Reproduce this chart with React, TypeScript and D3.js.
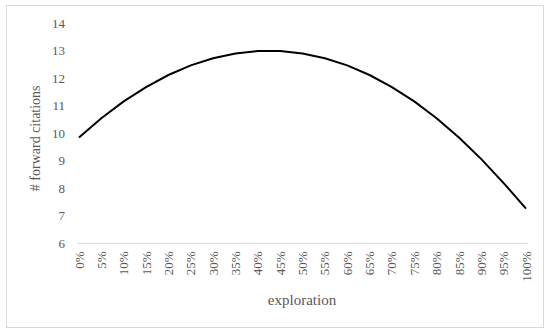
import { useEffect, useRef } from 'react';
import * as d3 from 'd3';

const categories = ['0%', '5%', '10%', '15%', '20%', '25%', '30%', '35%', '40%', '45%', '50%', '55%', '60%', '65%', '70%', '75%', '80%', '85%', '90%', '95%', '100%'];
const citations = [9.85, 10.55, 11.16, 11.68, 12.12, 12.47, 12.73, 12.9, 12.99, 12.99, 12.9, 12.73, 12.47, 12.12, 11.68, 11.16, 10.55, 9.85, 9.06, 8.19, 7.26];
const yTicks = [6, 7, 8, 9, 10, 11, 12, 13, 14];

const WIDTH = 550;
const HEIGHT = 335;
const FONT = '"Palatino Linotype", "Book Antiqua", Palatino, "Liberation Serif", serif';

export default function App() {
  const svgRef = useRef<SVGSVGElement>(null);

  useEffect(() => {
    if (!svgRef.current) return;
    const svg = d3.select(svgRef.current);
    svg.selectAll('*').remove();

    // frame
    svg.append('rect')
      .attr('x', 6.5).attr('y', 5.5)
      .attr('width', 537).attr('height', 322)
      .attr('fill', 'white')
      .attr('stroke', '#d9d9d9');

    const x = d3.scalePoint<string>().domain(categories).range([79, 526]);
    const y = d3.scaleLinear().domain([6, 14]).range([243.3, 23.3]);

    // y tick labels
    svg.append('g')
      .selectAll('text')
      .data(yTicks)
      .enter()
      .append('text')
      .attr('x', 65)
      .attr('y', (d) => y(d))
      .attr('dy', '0.35em')
      .attr('text-anchor', 'end')
      .style('font-family', FONT)
      .style('font-size', '13px')
      .style('fill', '#595959')
      .text((d) => d);

    // x axis line
    svg.append('line')
      .attr('x1', 77).attr('x2', 528)
      .attr('y1', y(6)).attr('y2', y(6))
      .attr('stroke', '#d9d9d9')
      .attr('stroke-width', 1);

    // x tick labels (rotated)
    svg.append('g')
      .selectAll('text')
      .data(categories)
      .enter()
      .append('text')
      .attr('transform', (d) => `translate(${x(d)},${y(6) + 8}) rotate(-90)`)
      .attr('dy', '0.35em')
      .attr('text-anchor', 'end')
      .style('font-family', FONT)
      .style('font-size', '13px')
      .style('fill', '#595959')
      .text((d) => d);

    // line
    const line = d3.line<number>()
      .x((_, i) => x(categories[i]) ?? 0)
      .y((d) => y(d));

    svg.append('path')
      .datum(citations)
      .attr('fill', 'none')
      .attr('stroke', '#000')
      .attr('stroke-width', 2)
      .attr('stroke-linejoin', 'round')
      .attr('d', line);

    // axis titles
    svg.append('text')
      .attr('transform', `translate(40,${(y(6) + y(14)) / 2 + 5}) rotate(-90)`)
      .attr('text-anchor', 'middle')
      .style('font-family', FONT)
      .style('font-size', '14px')
      .style('fill', '#595959')
      .text('# forward citations');

    svg.append('text')
      .attr('x', 302)
      .attr('y', 305)
      .attr('text-anchor', 'middle')
      .style('font-family', FONT)
      .style('font-size', '15px')
      .style('fill', '#595959')
      .text('exploration');
  }, []);

  return (
    <svg
      ref={svgRef}
      width={WIDTH}
      height={HEIGHT}
      style={{ position: 'absolute', left: 0, top: 0, background: 'white' }}
    />
  );
}
